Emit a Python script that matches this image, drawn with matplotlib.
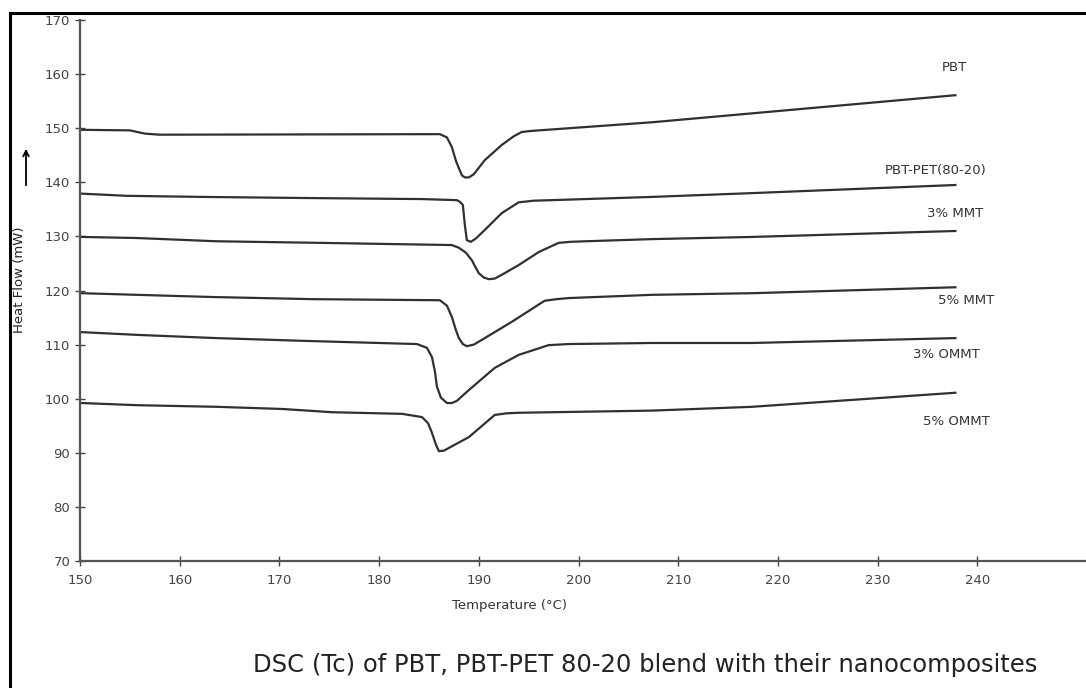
# -*- coding: utf-8 -*-
'''
DSC cooling curves (Tc) - PBT, PBT-PET blend and nanocomposites
'''
import matplotlib.pyplot as plt
from matplotlib.lines import Line2D
import numpy as np

#%% data  (temperature [C], heat flow [mW])
pbt_T = [150.2, 155.0, 156.5, 158.0, 186.1, 186.8, 187.3, 187.7, 188.0, 188.3, 188.6, 189.0, 189.5, 190.6, 192.3, 193.5, 194.3, 195.3, 207.4, 237.8]
pbt_H = [149.7, 149.6, 149.0, 148.8, 148.9, 148.3, 146.5, 144.0, 142.6, 141.3, 140.9, 140.9, 141.5, 144.1, 146.9, 148.5, 149.3, 149.5, 151.1, 156.1]

blend_T = [150.2, 154.7, 162.2, 172.3, 184.3, 187.8, 188.1, 188.4, 188.6, 188.8, 189.2, 189.7, 190.6, 192.3, 194.0, 195.5, 197.3, 207.4, 217.4, 237.8]
blend_H = [137.9, 137.5, 137.3, 137.1, 136.9, 136.7, 136.4, 135.8, 132.1, 129.3, 129.0, 129.6, 131.2, 134.3, 136.3, 136.6, 136.7, 137.3, 138.0, 139.5]

mmt3_T = [150.2, 155.7, 163.7, 174.3, 187.3, 188.0, 188.7, 189.3, 189.7, 190.0, 190.5, 191.0, 191.6, 192.3, 194.0, 196.0, 198.0, 199.2, 200.7, 207.4, 217.4, 237.8]
mmt3_H = [129.9, 129.7, 129.1, 128.8, 128.4, 127.9, 127.0, 125.6, 124.2, 123.2, 122.4, 122.1, 122.2, 122.9, 124.7, 127.1, 128.8, 129.0, 129.1, 129.5, 129.9, 131.0]

mmt5_T = [150.2, 155.7, 163.2, 173.3, 186.1, 186.8, 187.3, 187.7, 188.0, 188.4, 188.8, 189.5, 190.6, 193.3, 196.6, 197.8, 199.0, 207.4, 217.4, 237.8]
mmt5_H = [119.5, 119.2, 118.8, 118.4, 118.2, 117.2, 115.1, 112.7, 111.2, 110.1, 109.7, 110.0, 111.2, 114.2, 118.1, 118.4, 118.6, 119.2, 119.5, 120.6]

ommt3_T = [150.2, 155.7, 163.7, 172.3, 183.8, 184.8, 185.3, 185.6, 185.8, 186.2, 186.8, 187.3, 187.8, 189.0, 191.6, 194.0, 197.0, 199.0, 207.4, 217.4, 237.8]
ommt3_H = [112.3, 111.8, 111.2, 110.7, 110.1, 109.4, 107.7, 105.0, 102.2, 100.2, 99.2, 99.2, 99.6, 101.6, 105.7, 108.1, 109.9, 110.1, 110.3, 110.3, 111.2]

ommt5_T = [150.2, 155.7, 163.7, 170.3, 175.3, 182.3, 184.3, 184.9, 185.3, 185.7, 186.0, 186.5, 187.0, 189.0, 191.6, 192.8, 194.0, 207.4, 217.4, 237.8]
ommt5_H = [99.2, 98.8, 98.5, 98.1, 97.5, 97.2, 96.6, 95.5, 93.7, 91.5, 90.3, 90.4, 90.9, 92.9, 97.0, 97.3, 97.4, 97.8, 98.5, 101.1]

curves = [(pbt_T, pbt_H), (blend_T, blend_H), (mmt3_T, mmt3_H),
          (mmt5_T, mmt5_H), (ommt3_T, ommt3_H), (ommt5_T, ommt5_H)]

labels = ['PBT', 'PBT-PET(80-20)', '3% MMT', '5% MMT', '3% OMMT', '5% OMMT']
label_T = [237.7, 235.8, 237.8, 238.9, 236.9, 237.9]
label_H = [161.2, 142.2, 134.3, 118.2, 108.1, 95.7]

xticks = np.arange(150, 241, 10)
yticks = np.arange(70, 171, 10)

#%% fig
fig = plt.figure(figsize=(10.86, 6.88), dpi=100)
ax = fig.add_axes([80/1086, 1-561/688, 1-80/1086, (561-20)/688])

for T, H in curves:
    ax.plot(T, H, c='#303030', lw=1.6, solid_joinstyle='round')

for txt, t, h in zip(labels, label_T, label_H):
    ax.text(t, h, txt, fontsize=9.5, color='#333333', ha='center', va='center')

ax.set_xlim([150, 250.9])
ax.set_ylim([70, 170])
ax.set_xticks(xticks)
ax.set_yticks(yticks)
ax.tick_params(direction='inout', length=7, width=1, color='#444444',
               labelcolor='#444444', labelsize=9.5)
ax.tick_params(axis='x', pad=6)
for s in ['top', 'right']:
    ax.spines[s].set_visible(False)
for s in ['left', 'bottom']:
    ax.spines[s].set_color('#555555')
    ax.spines[s].set_linewidth(1.6)

fig.text(510/1086, 1-606/688, 'Temperature (°C)', fontsize=9.5, color='#333333',
         ha='center', va='center')
fig.text(20/1086, 1-280/688, 'Heat Flow (mW)', fontsize=9.5, color='#222222',
         rotation=90, ha='center', va='center')
ax.annotate('', xy=(26/1086, 1-146/688), xytext=(26/1086, 1-188/688),
            xycoords='figure fraction', textcoords='figure fraction',
            arrowprops=dict(arrowstyle='->', lw=1.3, color='k'))

fig.text(645/1086, 1-665/688, 'DSC (Tc) of PBT, PBT-PET 80-20 blend with their nanocomposites',
         fontsize=17.5, color='#222222', ha='center', va='center')

# outer frame
fig.add_artist(Line2D([10/1086, 10/1086], [0, 1-13/688], color='k', lw=2.2))
fig.add_artist(Line2D([10/1086, 1], [1-13/688, 1-13/688], color='k', lw=2.2))

plt.savefig('out.png', dpi=100, transparent=False)
